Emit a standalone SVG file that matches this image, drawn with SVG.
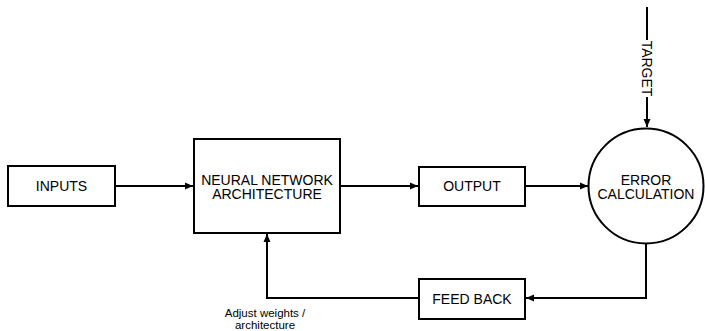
<svg xmlns="http://www.w3.org/2000/svg" width="705" height="331" viewBox="0 0 705 331">
<style>
.box{fill:#fff;stroke:#000;stroke-width:2}
.ln{fill:none;stroke:#000;stroke-width:2}
.t{font-family:"Liberation Sans",Arial,sans-serif;font-size:14px;fill:#000;text-anchor:middle}
.s{font-family:"Liberation Sans",Arial,sans-serif;font-size:11.5px;fill:#000;text-anchor:middle}
</style>
<defs>
<marker id="ah" markerWidth="10" markerHeight="10" refX="9" refY="5" orient="auto" markerUnits="userSpaceOnUse">
<path d="M1,1.5 L9,5 L1,8.5 Z" fill="#000"/>
</marker>
</defs>
<rect width="705" height="331" fill="#fff"/>
<g id="connectors">
<line class="ln" x1="115" y1="186" x2="193" y2="186" marker-end="url(#ah)"/>
<line class="ln" x1="340" y1="186" x2="418" y2="186" marker-end="url(#ah)"/>
<line class="ln" x1="525" y1="186" x2="588" y2="186" marker-end="url(#ah)"/>
<line class="ln" x1="647" y1="7" x2="647" y2="127" marker-end="url(#ah)"/>
<polyline class="ln" points="646,244 646,298 526,298" marker-end="url(#ah)"/>
<polyline class="ln" points="419,298 267,298 267,234" marker-end="url(#ah)"/>
<rect x="640" y="40" width="14" height="57" fill="#fff"/>
<text class="t" transform="translate(647,68.5) rotate(90)" dy="5">TARGET</text>
<text class="s" x="265" y="316.5">Adjust weights /</text>
<text class="s" x="265" y="328.5">architecture</text>
</g>
<g id="inputs">
<rect class="box" x="8" y="166" width="107" height="40"/>
<text class="t" x="61.5" y="191">INPUTS</text>
</g>
<g id="nn">
<rect class="box" x="194" y="139" width="146" height="94"/>
<text class="t" x="267" y="184.5">NEURAL NETWORK</text>
<text class="t" x="267" y="199">ARCHITECTURE</text>
</g>
<g id="output">
<rect class="box" x="419" y="167" width="106" height="39"/>
<text class="t" x="472" y="191">OUTPUT</text>
</g>
<g id="error">
<circle class="box" cx="646" cy="186" r="57.5"/>
<text class="t" x="646" y="184.5">ERROR</text>
<text class="t" x="646" y="199">CALCULATION</text>
</g>
<g id="feedback">
<rect class="box" x="419" y="279" width="106" height="40"/>
<text class="t" x="472" y="303.5">FEED BACK</text>
</g>
</svg>
